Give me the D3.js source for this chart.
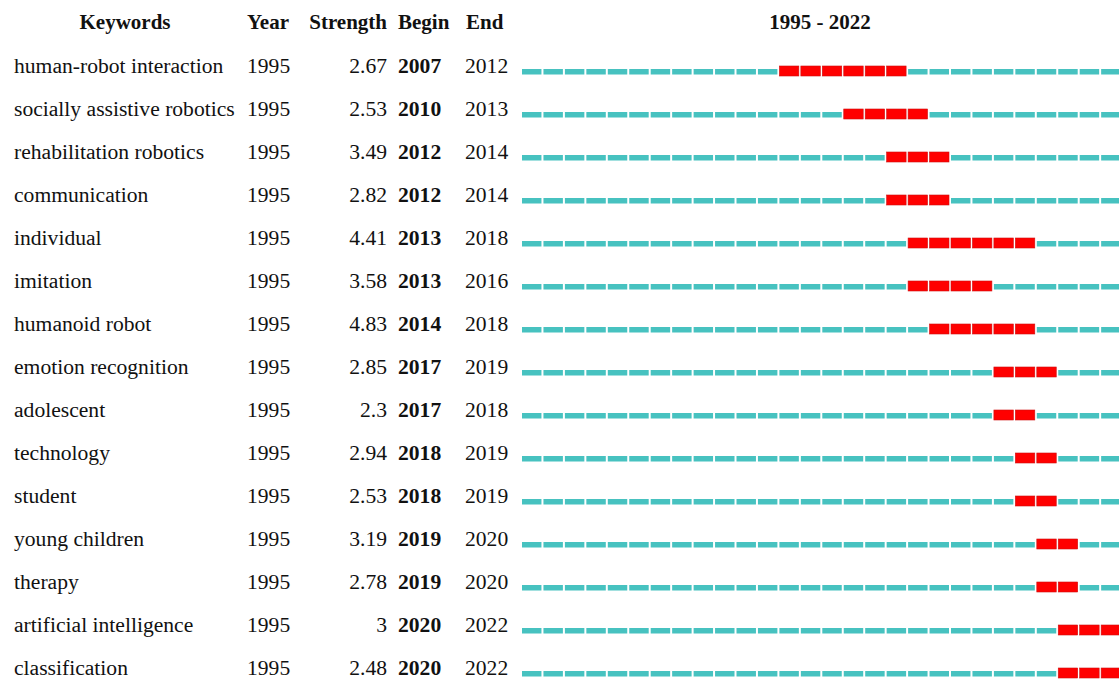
<!DOCTYPE html>
<html>
<head>
<meta charset="utf-8">
<script src="https://cdn.jsdelivr.net/npm/d3@7"></script>
<style>
  body { margin: 0; background: #fff; }
  text { font-family: "Liberation Serif", "Times New Roman", serif; fill: #111; }
</style>
</head>
<body>
<svg id="burst" width="1119" height="679"></svg>
<script>
// keyword burst data
const keywords = ["human-robot interaction", "socially assistive robotics", "rehabilitation robotics",
  "communication", "individual", "imitation", "humanoid robot", "emotion recognition", "adolescent",
  "technology", "student", "young children", "therapy", "artificial intelligence", "classification"];
const years = [1995, 1995, 1995, 1995, 1995, 1995, 1995, 1995, 1995, 1995, 1995, 1995, 1995, 1995, 1995];
const strengths = ["2.67", "2.53", "3.49", "2.82", "4.41", "3.58", "4.83", "2.85", "2.3", "2.94", "2.53", "3.19", "2.78", "3", "2.48"];
const begins = [2007, 2010, 2012, 2012, 2013, 2013, 2014, 2017, 2017, 2018, 2018, 2019, 2019, 2020, 2020];
const ends = [2012, 2013, 2014, 2014, 2018, 2016, 2018, 2019, 2018, 2019, 2019, 2020, 2020, 2022, 2022];
const yearStart = 1995, yearEnd = 2022;

const svg = d3.select("#burst");

const rows = keywords.map((k, i) => ({
  keyword: k, year: years[i], strength: strengths[i], begin: begins[i], end: ends[i]
}));

var y = d3.scalePoint()
  .domain(d3.range(rows.length))
  .range([65, 65 + 43 * (rows.length - 1)]);

var x = d3.scaleLinear()
  .domain([yearStart, yearEnd + 1])
  .range([521, 521 + 21.45 * (yearEnd - yearStart + 1)]);

const allYears = d3.range(yearStart, yearEnd + 1);

// header
const header = svg.append("g").attr("font-weight", "bold").attr("font-size", 21);
header.append("text").attr("x", 125).attr("y", 22).attr("dy", "0.35em")
  .style("text-anchor", "middle").text("Keywords");
header.append("text").attr("x", 247).attr("y", 22).attr("dy", "0.35em").text("Year");
header.append("text").attr("x", 387).attr("y", 22).attr("dy", "0.35em")
  .style("text-anchor", "end").text("Strength");
header.append("text").attr("x", 398).attr("y", 22).attr("dy", "0.35em").text("Begin");
header.append("text").attr("x", 466).attr("y", 22).attr("dy", "0.35em").text("End");
header.append("text").attr("x", 820).attr("y", 22).attr("dy", "0.35em")
  .style("text-anchor", "middle").text(yearStart + " - " + yearEnd);

var row = svg.selectAll(".row")
  .data(rows)
  .enter()
  .append("g")
  .attr("class", "row")
  .attr("transform", (d, i) => "translate(0," + y(i) + ")")
  .attr("font-size", 21.6);

row.append("text").attr("x", 14).attr("dy", "0.35em").text(d => d.keyword);
row.append("text").attr("x", 247).attr("dy", "0.35em").text(d => d.year);
row.append("text").attr("x", 387).attr("dy", "0.35em").style("text-anchor", "end").text(d => d.strength);
row.append("text").attr("x", 398).attr("dy", "0.35em").attr("font-weight", "bold").text(d => d.begin);
row.append("text").attr("x", 465).attr("dy", "0.35em").text(d => d.end);

// year segments
row.selectAll(".seg")
  .data(d => allYears.map(yr => ({ yr: yr, burst: yr >= d.begin && yr <= d.end })))
  .enter()
  .append("rect")
  .attr("class", "seg")
  .attr("x", d => x(d.yr) + 1)
  .attr("width", d => x(d.yr + 1) - x(d.yr) - 2)
  .attr("y", d => d.burst ? 1 : 4)
  .attr("height", d => d.burst ? 10 : 5.5)
  .attr("fill", d => d.burst ? "#ff0000" : "#47c2c0")
  .attr("stroke", d => d.burst ? "#d01010" : "none")
  .attr("stroke-width", 0.6);
</script>
</body>
</html>
